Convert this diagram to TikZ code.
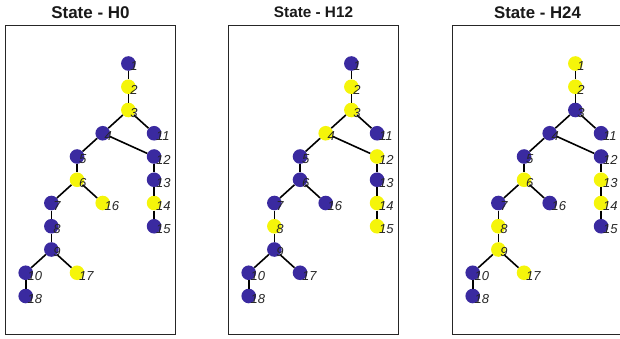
\documentclass[tikz,border=0pt]{standalone}
\usepackage{fontspec}
\setmainfont{Liberation Sans}
\definecolor{nb}{RGB}{58,42,160}
\definecolor{ny}{RGB}{245,245,10}
\definecolor{ink}{RGB}{38,38,38}
\begin{document}
\begin{tikzpicture}[x=1pt,y=-1pt,
  vert/.style={circle,minimum size=14.6pt,inner sep=0pt,draw=none},
  edge/.style={line width=1.6pt,black},
  lab/.style={font=\fontsize{13}{13}\selectfont\itshape,text=ink,anchor=west,inner sep=0pt},
  frame/.style={draw=ink,line width=0.9pt},
  ttl/.style={text=black!90,inner sep=0pt}]
\useasboundingbox (0,0) rectangle (620,338);
\def\nodepos{1/4/0,2/4/1,3/4/2,4/3/3,5/2/4,6/2/5,7/1/6,8/1/7,9/1/8,10/0/9,11/5/3,12/5/4,13/5/5,14/5/6,15/5/7,16/3/6,17/2/9,18/0/10}
\foreach \p/\ox/\ttltext/\fs/\ylist in {
  a/0/H0/17/{2,3,6,16,14,17},
  b/223/H12/15.3/{2,3,4,12,14,15,8},
  c/447/H24/16.8/{1,2,6,13,14,8,9,17}}{
  % frame and title
  \draw[frame] ({\ox+5.3},25.3) rectangle ({\ox+175.7},334.3);
  \node[ttl,font=\fontsize{\fs}{\fs}\selectfont\bfseries] (\p-title) at ({\ox+90.5},12.5) {State - \ttltext};
  % vertices
  \foreach \k/\c/\r in \nodepos {
    \gdef\cl{nb}
    \foreach \y in \ylist {\ifnum\y=\k\relax\gdef\cl{ny}\fi}
    \node[vert,fill=\cl] (\p-\k) at ({\ox+25.7+25.67*\c},{63.5+23.25*\r}) {};
  }
  % edges
  \foreach \a/\b in {1/2,2/3,3/4,3/11,4/5,4/12,5/6,6/7,6/16,7/8,8/9,9/10,9/17,10/18,12/13,13/14,14/15}
    \draw[edge] (\p-\a) -- (\p-\b);
  % labels
  \foreach \k in {1,...,18}
    \node[lab] (\p-l\k) at ([xshift=1.8pt,yshift=-3pt]\p-\k.center) {\k};
}
\end{tikzpicture}
\end{document}
